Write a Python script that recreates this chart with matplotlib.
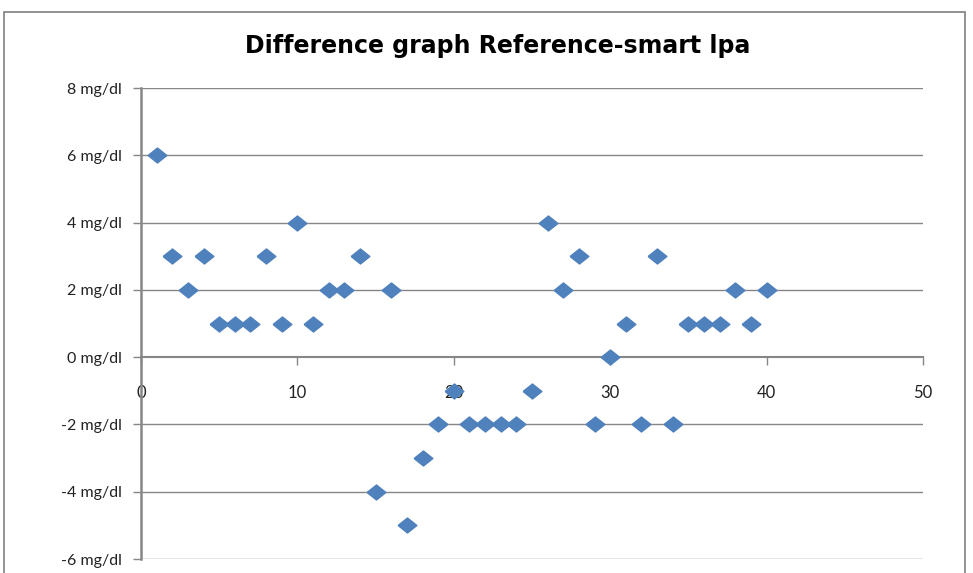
import matplotlib.pyplot as plt
from matplotlib.patches import Rectangle

# sample number vs difference (mg/dl)
sample = list(range(1, 41))
diff = [6, 3, 2, 3, 1, 1, 1, 3, 1, 4,
        1, 2, 2, 3, -4, 2, -5, -3, -2, -1,
        -2, -2, -2, -2, -1, 4, 2, 3, -2, 0,
        1, -2, 3, -2, 1, 1, 1, 2, 1, 2]

x_ticks = [0, 10, 20, 30, 40, 50]
y_ticks = [-6, -4, -2, 0, 2, 4, 6, 8]

plt.rcParams['font.family'] = ['Lato', 'DejaVu Sans']

W, H = 973, 573
fig = plt.figure(figsize=(W / 100, H / 100), dpi=100)
ax = fig.add_axes([141 / W, 1 - 559 / H, (923 - 141) / W, (559 - 88) / H])

# chart area frame
fig.patches.append(Rectangle((4 / W, -0.05), (965 - 4) / W, 1 - 12 / H + 0.05,
                             transform=fig.transFigure, fill=False,
                             edgecolor='#808080', linewidth=1.2))

grid_c = '#868686'
for yv in y_ticks:
    if yv != 0:
        ax.axhline(yv, color=grid_c, linewidth=1.0, zorder=1)

# slightly flattened diamond like the Excel marker
diamond = [(-1, 0), (0, 0.8), (1, 0), (0, -0.8), (-1, 0)]
ax.plot(sample, diff, linestyle='none', marker=diamond, markersize=13.5,
        color='#4F81BD', markeredgecolor='#4F81BD', zorder=3, clip_on=False)

ax.set_xlim(0, 50)
ax.set_ylim(-6, 8)
ax.set_xticks(x_ticks)
ax.set_yticks(y_ticks)
ax.set_yticklabels([f'{v} mg/dl' for v in y_ticks])

for s in ['top', 'right']:
    ax.spines[s].set_visible(False)
ax.spines['bottom'].set_position(('data', 0))
ax.spines['left'].set_color(grid_c)
ax.spines['left'].set_linewidth(1.8)
ax.spines['bottom'].set_color(grid_c)
ax.spines['bottom'].set_linewidth(1.5)

ax.tick_params(axis='x', direction='out', length=6, width=1, color=grid_c,
               pad=14, labelsize=12, labelcolor='#222222')
ax.tick_params(axis='y', direction='out', length=6, width=1, color=grid_c,
               pad=8, labelsize=11.5, labelcolor='#222222')

fig.text(498 / W, 1 - 46 / H, 'Difference graph Reference-smart lpa',
         ha='center', va='center', fontsize=17, fontweight='bold',
         family=['DejaVu Sans'], color='black')

fig.savefig('out.png', dpi=100)
